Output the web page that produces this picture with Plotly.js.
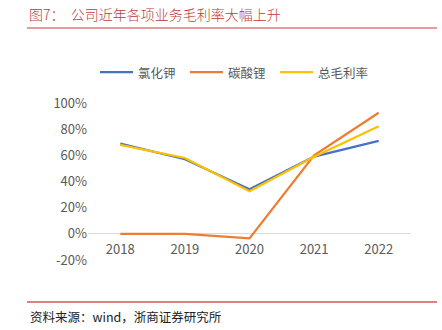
<!DOCTYPE html>
<html>
<head>
<meta charset="utf-8">
<script src="https://cdn.plot.ly/plotly-3.0.1.min.js"></script>
<style>html,body{margin:0;padding:0;background:#fff;}#chart{width:442px;height:330px;}</style>
</head>
<body>
<div id="chart"></div>
<script>
const years = ['2018', '2019', '2020', '2021', '2022'];
const potash = [0.69, 0.57, 0.34, 0.59, 0.71];
const lithium = [0.0, 0.0, -0.035, 0.60, 0.925];
const total = [0.68, 0.58, 0.325, 0.59, 0.823];
const seriesNames = ['氯化钾', '碳酸锂', '总毛利率'];
const colors = ['#4472C4', '#ED7D31', '#FFC000'];
const yTicks = [-0.2, 0, 0.2, 0.4, 0.6, 0.8, 1.0];
const yTickText = ['-20%', '0%', '20%', '40%', '60%', '80%', '100%'];

const font = "'Noto Sans CJK SC', 'Noto Sans', sans-serif";
const traces = [potash, lithium, total].map((v, i) => ({
  x: years, y: v, type: 'scatter', mode: 'lines', name: seriesNames[i],
  line: {color: colors[i], width: 2.25}
}));

const W = 323, H = 157, L = 88, B = 70;
const px = x => (x - L) / W;
const py = y => (330 - B - y) / H;

const shapes = [
  {type: 'line', xref: 'paper', yref: 'paper', x0: px(27), x1: px(437),
    y0: py(28), y1: py(28), line: {color: '#E07A7C', width: 1.5}},
  {type: 'line', xref: 'paper', yref: 'paper', x0: px(27), x1: px(437),
    y0: py(302), y1: py(302), line: {color: '#C00000', width: 1}}
];
const annotations = [
  {xref: 'paper', yref: 'paper', x: px(27), y: py(14), xanchor: 'left', yanchor: 'middle',
    text: '图7：  公司近年各项业务毛利率大幅上升', showarrow: false,
    font: {family: font, size: 14, color: '#C0393D', weight: 300}},
  {xref: 'paper', yref: 'paper', x: px(28), y: py(316), xanchor: 'left', yanchor: 'middle',
    text: '资料来源：wind，浙商证券研究所', showarrow: false,
    font: {family: "'Noto Sans CJK SC', serif", size: 12.5, color: '#222'}}
];
// manual legend
const legX = [100, 190, 280];
seriesNames.forEach((n, i) => {
  shapes.push({type: 'line', xref: 'paper', yref: 'paper', x0: px(legX[i]), x1: px(legX[i] + 33),
    y0: py(72), y1: py(72), line: {color: colors[i], width: 2.25}});
  annotations.push({xref: 'paper', yref: 'paper', x: px(legX[i] + 36), y: py(72),
    xanchor: 'left', yanchor: 'middle', text: n, showarrow: false,
    font: {family: font, size: 12.5, color: '#595959'}});
});

const layout = {
  width: 442, height: 330,
  margin: {l: L, r: 31, t: 103, b: B},
  paper_bgcolor: '#fff', plot_bgcolor: '#fff',
  font: {family: font, color: '#595959', size: 13},
  showlegend: false,
  xaxis: {type: 'category', range: [-0.5, 4.5], showgrid: false, zeroline: false,
    showline: false, ticks: '', anchor: 'free', position: 0.2 / 1.2, ticklabelstandoff: 6,
    tickfont: {size: 13, color: '#595959'}, fixedrange: true},
  yaxis: {range: [-0.2, 1.0], tickvals: yTicks, ticktext: yTickText, showgrid: false,
    zeroline: true, zerolinecolor: '#D9D9D9', zerolinewidth: 1, showline: false,
    ticks: '', tickfont: {size: 13, color: '#595959'}, fixedrange: true},
  shapes: shapes,
  annotations: annotations
};
Plotly.newPlot('chart', traces, layout, {displayModeBar: false, staticPlot: true});
</script>
</body>
</html>
